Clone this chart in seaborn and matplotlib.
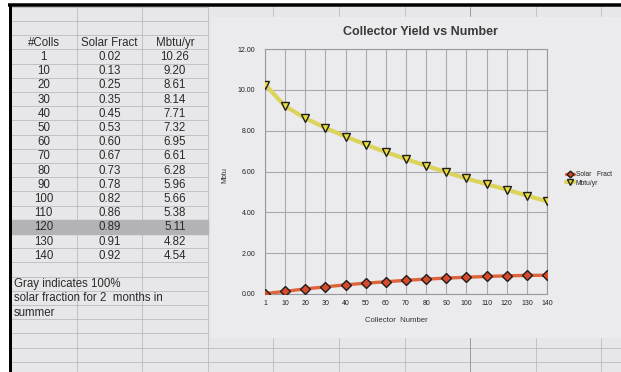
import matplotlib
matplotlib.use("Agg")
import matplotlib.pyplot as plt
import pandas as pd
import seaborn as sns

# ---- sheet data -------------------------------------------------------------
colls = [1, 10, 20, 30, 40, 50, 60, 70, 80, 90, 100, 110, 120, 130, 140]
solar_fract = [0.02, 0.13, 0.25, 0.35, 0.45, 0.53, 0.60, 0.67, 0.73, 0.78,
               0.82, 0.86, 0.89, 0.91, 0.92]
mbtu_yr = [10.26, 9.20, 8.61, 8.14, 7.71, 7.32, 6.95, 6.61, 6.28, 5.96,
           5.66, 5.38, 5.11, 4.82, 4.54]
headers = ["#Colls", "Solar Fract", "Mbtu/yr"]
gray_row = 120
note_lines = ["Gray indicates 100%", "solar fraction for 2  months in", "summer"]

chart_title = "Collector Yield vs Number"
x_title = "Collector  Number"
y_title = "Mbtu"
legend_labels = ["Solar   Fract", "Mbtu/yr"]
y_ticks = [0, 2, 4, 6, 8, 10, 12]

# ---- figure / sheet geometry (pixels) ---------------------------------------
W, H = 621, 372
sns.set_theme(style="white")
plt.rcParams["font.family"] = ["Liberation Sans", "DejaVu Sans"]

fig = plt.figure(figsize=(W / 100, H / 100), dpi=100, facecolor="white")
bg = fig.add_axes([0, 0, 1, 1], zorder=0)
bg.set_xlim(0, W)
bg.set_ylim(H, 0)
bg.axis("off")

px = 0.72  # points per pixel
sheet_col = "#e7e7e9"
grid_col = "#b9b9bd"

bg.add_patch(plt.Rectangle((10, 5), W, H, color=sheet_col, zorder=0))

col_x = [11 + 65.6 * k for k in range(10)]
row_h = 14.2
row_top = 6.8
n_rows = int((H - row_top) / row_h) + 2
row_y = [row_top + row_h * k for k in range(n_rows)]

chart_box = (211, 17, W, 337)  # x0, y0, x1, y1

# table gridlines (left block: full height)
for y in row_y:
    bg.plot([11, col_x[3]], [y, y], color=grid_col, lw=0.8 * px, zorder=1)
for x in col_x[:4]:
    bg.plot([x, x], [row_top, H], color=grid_col, lw=0.8 * px, zorder=1)
# gridlines around the chart object
for y in row_y:
    if y > chart_box[3]:
        bg.plot([col_x[3], W], [y, y], color=grid_col, lw=0.8 * px, zorder=1)
for k, x in enumerate(col_x[4:]):
    c = "#8a8a8e" if k == 3 else grid_col
    bg.plot([x, x], [row_top, chart_box[1]], color=c, lw=0.8 * px, zorder=1)
    bg.plot([x, x], [chart_box[3], H], color=c, lw=0.8 * px, zorder=1)

# window frame
bg.plot([8, W], [5, 5], color="black", lw=3.5 * px, zorder=5, solid_capstyle="butt")
bg.plot([9.5, 9.5], [4, H], color="black", lw=3 * px, zorder=5, solid_capstyle="butt")

# chart object background
bg.add_patch(plt.Rectangle((chart_box[0], chart_box[1]),
                           chart_box[2] - chart_box[0], chart_box[3] - chart_box[1],
                           color="#ebebed", zorder=2))

# table contents
col_cx = [(col_x[i] + col_x[i + 1]) / 2 for i in range(3)]
hdr_row = 2
txt_kw = dict(ha="center", va="center", fontsize=8.3, color="#2a2a2a", zorder=4)
for cx, h in zip(col_cx, headers):
    bg.text(cx, (row_y[hdr_row] + row_y[hdr_row + 1]) / 2 + 0.5, h, **txt_kw)
for i, (c, s, m) in enumerate(zip(colls, solar_fract, mbtu_yr)):
    r = hdr_row + 1 + i
    yc = (row_y[r] + row_y[r + 1]) / 2 + 0.5
    if c == gray_row:
        bg.add_patch(plt.Rectangle((11, row_y[r]), col_x[3] - 11, row_h,
                                   color="#b3b3b7", zorder=3))
    bg.text(col_cx[0], yc, f"{c}", **txt_kw)
    bg.text(col_cx[1], yc, f"{s:.2f}", **txt_kw)
    bg.text(col_cx[2], yc, f"{m:.2f}", **txt_kw)
note_row = hdr_row + 1 + len(colls) + 1
for j, line in enumerate(note_lines):
    r = note_row + j
    bg.text(14, (row_y[r] + row_y[r + 1]) / 2 + 0.5, line, ha="left", va="center",
            fontsize=8.3, color="#2a2a2a", zorder=4)

# ---- chart ------------------------------------------------------------------
df = pd.DataFrame({
    "Collectors": [str(c) for c in colls],
    "Solar Fract": solar_fract,
    "Mbtu/yr": mbtu_yr,
})

pl, pr, pt, pb = 265, 547, 49, 294
ax = fig.add_axes([pl / W, 1 - pb / H, (pr - pl) / W, (pb - pt) / H], zorder=3)
ax.set_facecolor("#ebebed")

sns.lineplot(data=df, x="Collectors", y="Solar Fract", ax=ax, sort=False,
             color="#e0643a", lw=2.4, marker="D", markersize=4.6,
             markerfacecolor="#d84a2c", markeredgecolor="#1e1e1e",
             markeredgewidth=1.0, label=legend_labels[0], zorder=4)
sns.lineplot(data=df, x="Collectors", y="Mbtu/yr", ax=ax, sort=False,
             color="#dcd35a", lw=3.0, marker="v", markersize=6.2,
             markerfacecolor="#ecdc3c", markeredgecolor="#1e1e1e",
             markeredgewidth=1.0, label=legend_labels[1], zorder=4)

ax.set_xlim(0, len(colls) - 1)
ax.set_ylim(y_ticks[0], y_ticks[-1])
ax.set_xticks(range(len(colls)))
ax.set_xticklabels([str(c) for c in colls])
ax.set_yticks(y_ticks)
ax.set_yticklabels([f"{v:.2f}" for v in y_ticks])
ax.grid(True, color="#a9a9ad", lw=0.8)
ax.set_axisbelow(True)
for s in ax.spines.values():
    s.set_color("#9a9a9e")
    s.set_linewidth(0.8)
ax.tick_params(axis="both", length=0, labelsize=5, colors="#222222")
ax.tick_params(axis="y", pad=7)
ax.tick_params(axis="x", pad=4.5)

ax.set_xlabel(x_title, fontsize=5.6, color="#333333")
ax.set_ylabel(y_title, fontsize=5.0, color="#333333")
ax.xaxis.set_label_coords((396 - pl) / (pr - pl), -(316.5 - pb) / (pb - pt))
ax.yaxis.set_label_coords(-(pl - 228.5) / (pr - pl), (pb - 175) / (pb - pt))

fig.text(420 / W, 1 - 32 / H, chart_title, ha="center", va="center",
         fontsize=9, fontweight="bold", color="#3a3a3a")

leg = ax.legend(loc="upper left", bbox_to_anchor=(563 / W, 1 - 168 / H),
                bbox_transform=fig.transFigure, frameon=False, fontsize=4.8,
                handlelength=1.1, handletextpad=0.3, labelspacing=0.2,
                borderpad=0, markerscale=0.75)
for t in leg.get_texts():
    t.set_color("#222222")

fig.savefig("out.png", dpi=100, facecolor="white")
